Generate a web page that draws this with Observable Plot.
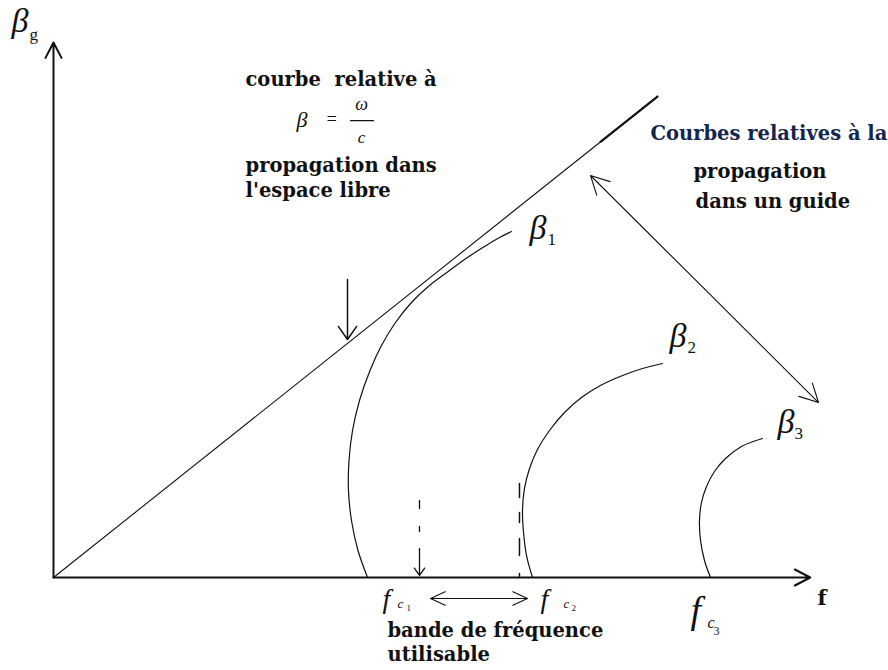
<!DOCTYPE html>
<html lang="fr">
<head>
<meta charset="utf-8">
<script src="https://cdn.jsdelivr.net/npm/d3@7"></script>
<script src="https://cdn.jsdelivr.net/npm/@observablehq/plot@0.6"></script>
<style>
  html, body { margin: 0; padding: 0; background: #fff; }
  #chart svg { display: block; }
</style>
</head>
<body>
<div id="chart"></div>
<script>
// Dispersion sketch: β versus f, in arbitrary sketch units.

// Axes (origin to arrow tips)
const fAxis = [{f1: 0, b1: 0, f2: 100.9, b2: 0}];
const betaAxis = [{f1: 0, b1: 0, f2: 0, b2: 71.33}];

// Free-space line β = ω/c
const freeSpace = [{f: 0, beta: 0}, {f: 80.53, beta: 64.13}];
const freeSpaceEnd = [{f: 72.93, beta: 58.08}, {f: 80.53, beta: 64.13}];

// Guided modes
const beta1 = [
  {f: 41.87, beta: 0}, {f: 40.6, beta: 3.6}, {f: 39.73, beta: 7.6},
  {f: 39.33, beta: 11.6}, {f: 39.4, beta: 15.6}, {f: 39.87, beta: 19.6},
  {f: 40.8, beta: 23.6}, {f: 42.2, beta: 27.6}, {f: 43.73, beta: 30.93},
  {f: 45.6, beta: 34.0}, {f: 47.73, beta: 36.67}, {f: 50.13, beta: 38.93},
  {f: 52.8, beta: 40.93}, {f: 55.2, beta: 42.67}, {f: 57.47, beta: 44.13},
  {f: 59.47, beta: 45.33}, {f: 61.07, beta: 46.13}
];
const beta2 = [
  {f: 63.87, beta: 0}, {f: 63.07, beta: 2.93}, {f: 62.67, beta: 6.0},
  {f: 62.53, beta: 8.93}, {f: 62.8, beta: 11.87}, {f: 63.47, beta: 14.53},
  {f: 64.53, beta: 17.07}, {f: 66.13, beta: 19.6}, {f: 68.13, beta: 22.0},
  {f: 70.4, beta: 24.0}, {f: 72.93, beta: 25.6}, {f: 75.87, beta: 26.93},
  {f: 78.53, beta: 27.87}, {f: 81.2, beta: 28.53}
];
const beta3 = [
  {f: 87.6, beta: 0}, {f: 86.8, beta: 2.27}, {f: 86.27, beta: 4.93},
  {f: 86.13, beta: 7.6}, {f: 86.4, beta: 10.0}, {f: 87.07, beta: 12.13},
  {f: 88.13, beta: 14.13}, {f: 89.6, beta: 15.87}, {f: 91.73, beta: 17.47},
  {f: 94.53, beta: 18.53}
];

// Pointers
const freeSpacePointer = [{f1: 39.2, b1: 39.73, f2: 39.2, b2: 31.73}];
const guidePointer = [
  {f1: 86.8, b1: 38.47, f2: 71.6, b2: 53.6},
  {f1: 86.8, b1: 38.47, f2: 102.0, b2: 23.33}
];
const bandPointer = [
  {f1: 56.73, b1: -2.8, f2: 50.27, b2: -2.8},
  {f1: 56.73, b1: -2.8, f2: 63.2, b2: -2.8}
];
const cutoff1Dash = [{f: 48.8, beta: 10.27}, {f: 48.8, beta: 3.87}];
const cutoff1Arrow = [{f1: 48.8, b1: 3.87, f2: 48.8, b2: 0.27}];
const cutoff2Dash = [{f: 62.13, beta: 12.53}, {f: 62.13, beta: 0}];

// Formula fraction bar
const fractionBar = [{f: 39.6, beta: 60.93}, {f: 42.67, beta: 60.93}];

// Texts
const freeSpaceNote = [
  {text: "courbe  relative à", f: 25.6, beta: 65.47},
  {text: "propagation dans", f: 25.6, beta: 54.0},
  {text: "l'espace libre", f: 25.6, beta: 50.67}
];
const guideNote = [
  {text: "propagation", f: 85.33, beta: 53.33},
  {text: "dans un guide", f: 85.6, beta: 49.33}
];
const guideTitle = [{text: "Courbes relatives à la", f: 79.6, beta: 58.27}];
const bandNote = [
  {text: "bande de fréquence", f: 44.53, beta: -7.87},
  {text: "utilisable", f: 44.53, beta: -11.07}
];
const fAxisLabel = [{text: "f", f: 101.87, beta: -3.73}];

const betaLabels = [
  {f: -5.6, beta: 72.67}, {f: 63.47, beta: 45.07},
  {f: 82.13, beta: 30.67}, {f: 96.53, beta: 19.33}
];
const betaIndices = [
  {text: "g", f: -3.2, beta: 71.6}, {text: "1", f: 65.87, beta: 44.27},
  {text: "2", f: 84.53, beta: 29.87}, {text: "3", f: 98.8, beta: 18.53}
];

const cutoffF = [
  {f: 43.87, beta: -4.0, size: 28}, {f: 64.93, beta: -4.0, size: 28},
  {f: 84.93, beta: -6.0, size: 38}
];
const cutoffC = [
  {f: 45.87, beta: -4.0, size: 13}, {f: 68.0, beta: -4.0, size: 13},
  {f: 87.2, beta: -6.67, size: 16}
];
const cutoffIdx = [
  {text: "1", f: 47.07, beta: -4.53, size: 9}, {text: "2", f: 69.07, beta: -4.53, size: 9},
  {text: "3", f: 88.0, beta: -7.73, size: 12}
];

const formula = [
  {text: "β", f: 32.4, beta: 60.0, size: 22},
  {text: "=", f: 36.27, beta: 60.27, size: 18}
];
const formulaFrac = [
  {text: "ω", f: 41.07, beta: 62.27, size: 18},
  {text: "c", f: 41.07, beta: 57.87, size: 17}
];

const INK = "#111";
const boldSerif = "DejaVu Serif, serif";
const italicSerif = "Liberation Serif, Times New Roman, serif";

const chart = Plot.plot({
  width: 888,
  height: 670,
  margin: 0,
  x: {domain: [-7.0667, 111.3333], range: [0, 888], axis: null},
  y: {domain: [-12.4, 76.9333], range: [670, 0], axis: null},
  style: {background: "#fff"},
  marks: [
    // axes
    Plot.arrow(fAxis, {x1: "f1", y1: "b1", x2: "f2", y2: "b2", stroke: INK, strokeWidth: 2, headLength: 13, headAngle: 55}),
    Plot.arrow(betaAxis, {x1: "f1", y1: "b1", x2: "f2", y2: "b2", stroke: INK, strokeWidth: 2, headLength: 13, headAngle: 55}),

    // free-space line
    Plot.line(freeSpace, {x: "f", y: "beta", stroke: INK, strokeWidth: 1.1}),
    Plot.line(freeSpaceEnd, {x: "f", y: "beta", stroke: INK, strokeWidth: 2.2}),

    // guided modes
    Plot.line(beta1, {x: "f", y: "beta", curve: "catmull-rom", stroke: INK, strokeWidth: 1.2}),
    Plot.line(beta2, {x: "f", y: "beta", curve: "catmull-rom", stroke: INK, strokeWidth: 1.2}),
    Plot.line(beta3, {x: "f", y: "beta", curve: "catmull-rom", stroke: INK, strokeWidth: 1.2}),

    // cut-off markers
    Plot.line(cutoff1Dash, {x: "f", y: "beta", stroke: INK, strokeWidth: 1.3, strokeDasharray: "8,18,5,17"}),
    Plot.arrow(cutoff1Arrow, {x1: "f1", y1: "b1", x2: "f2", y2: "b2", stroke: INK, strokeWidth: 1.3, headLength: 14, headAngle: 70}),
    Plot.line(cutoff2Dash, {x: "f", y: "beta", stroke: INK, strokeWidth: 1.5, strokeDasharray: "14,15,10,16,17,18"}),

    // pointers
    Plot.arrow(freeSpacePointer, {x1: "f1", y1: "b1", x2: "f2", y2: "b2", stroke: INK, strokeWidth: 1.5, headLength: 16, headAngle: 70}),
    Plot.arrow(guidePointer, {x1: "f1", y1: "b1", x2: "f2", y2: "b2", stroke: INK, strokeWidth: 1.1, headLength: 28, headAngle: 55}),
    Plot.arrow(bandPointer, {x1: "f1", y1: "b1", x2: "f2", y2: "b2", stroke: INK, strokeWidth: 1.1, headLength: 24, headAngle: 50}),

    // notes
    Plot.text(freeSpaceNote, {x: "f", y: "beta", text: "text", textAnchor: "start", lineAnchor: "bottom", fontFamily: boldSerif, fontWeight: "bold", fontSize: 19.5, fill: INK}),
    Plot.text(guideTitle, {x: "f", y: "beta", text: "text", textAnchor: "start", lineAnchor: "bottom", fontFamily: boldSerif, fontWeight: "bold", fontSize: 19.5, fill: "#14264f"}),
    Plot.text(guideNote, {x: "f", y: "beta", text: "text", textAnchor: "start", lineAnchor: "bottom", fontFamily: boldSerif, fontWeight: "bold", fontSize: 19.5, fill: INK}),
    Plot.text(bandNote, {x: "f", y: "beta", text: "text", textAnchor: "start", lineAnchor: "bottom", fontFamily: boldSerif, fontWeight: "bold", fontSize: 19.5, fill: INK}),
    Plot.text(fAxisLabel, {x: "f", y: "beta", text: "text", textAnchor: "start", lineAnchor: "bottom", fontFamily: boldSerif, fontWeight: "bold", fontSize: 21, fill: INK}),

    // formula β = ω / c
    Plot.text(formula, {x: "f", y: "beta", text: "text", textAnchor: "start", lineAnchor: "bottom", fontFamily: italicSerif, fontStyle: "italic", fontSize: (d) => d.size, fill: INK}),
    Plot.text(formulaFrac, {x: "f", y: "beta", text: "text", textAnchor: "middle", lineAnchor: "bottom", fontFamily: italicSerif, fontStyle: "italic", fontSize: (d) => d.size, fill: INK}),
    Plot.line(fractionBar, {x: "f", y: "beta", stroke: INK, strokeWidth: 1.2}),

    // β labels
    Plot.text(betaLabels, {x: "f", y: "beta", text: () => "β", textAnchor: "start", lineAnchor: "bottom", fontFamily: italicSerif, fontStyle: "italic", fontSize: 34, fill: INK}),
    Plot.text(betaIndices, {x: "f", y: "beta", text: "text", textAnchor: "start", lineAnchor: "bottom", fontFamily: italicSerif, fontWeight: (d) => d.text === "g" ? "bold" : "normal", fontSize: 17, fill: INK}),

    // cut-off frequency labels
    Plot.text(cutoffF, {x: "f", y: "beta", text: () => "f", textAnchor: "start", lineAnchor: "bottom", fontFamily: italicSerif, fontStyle: "italic", fontSize: (d) => d.size, fill: INK}),
    Plot.text(cutoffC, {x: "f", y: "beta", text: () => "c", textAnchor: "start", lineAnchor: "bottom", fontFamily: italicSerif, fontStyle: "italic", fontSize: (d) => d.size, fill: INK}),
    Plot.text(cutoffIdx, {x: "f", y: "beta", text: "text", textAnchor: "start", lineAnchor: "bottom", fontFamily: italicSerif, fontSize: (d) => d.size, fill: INK})
  ]
});

document.getElementById("chart").append(chart);
</script>
</body>
</html>
